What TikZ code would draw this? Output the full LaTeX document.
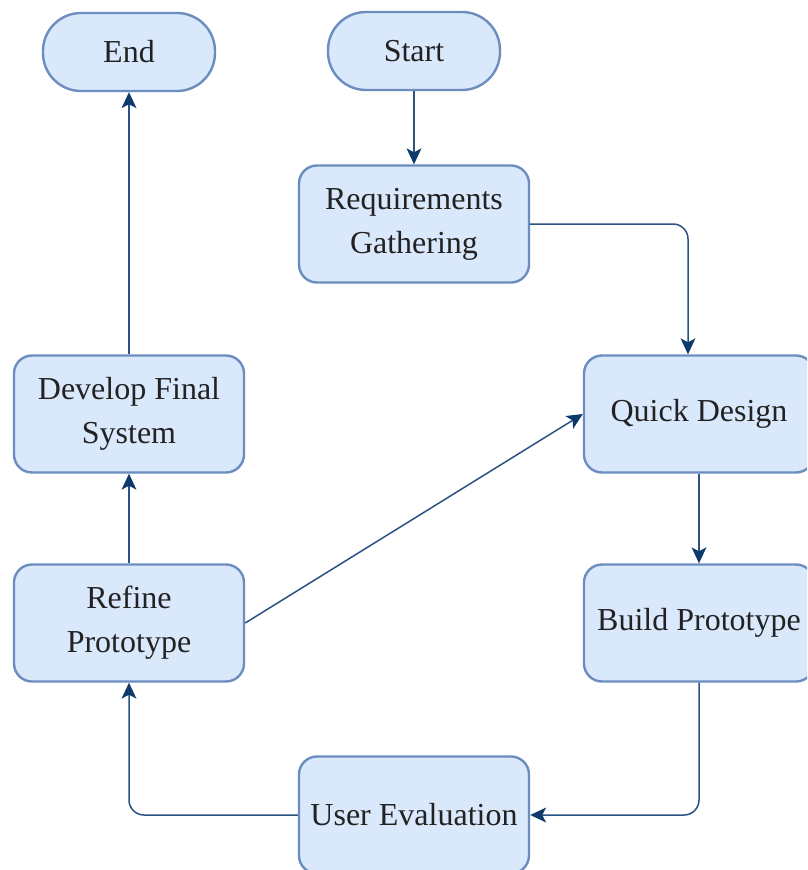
\documentclass[tikz,border=0pt]{standalone}
\usepackage{fontspec}
\setmainfont{Liberation Serif}
\newfontfamily\labelfont{Liberation Serif}
\usetikzlibrary{arrows.meta}
\definecolor{boxfill}{HTML}{DAE8FC}
\definecolor{boxline}{HTML}{6C8EBF}
\definecolor{edgeline}{HTML}{2B5283}
\definecolor{tipcol}{HTML}{0E3A6B}
\definecolor{txt}{HTML}{222222}
\tikzset{
  base/.style={draw=boxline, fill=boxfill, line width=2.4pt, text=txt,
    align=center, font={\labelfont\fontsize{32}{44}\selectfont}, inner sep=0pt},
  pill/.style={base, minimum width=172pt, minimum height=78pt, rounded corners=38pt},
  stepbox/.style={base, minimum width=230pt, minimum height=117pt, rounded corners=18pt},
  tip/.tip={Stealth[length=16pt, width=15pt, inset=4pt, line width=0pt, fill=tipcol]},
  flow/.style={draw=edgeline, line width=1.5pt, rounded corners=15pt, -tip}
}
\begin{document}
\begin{tikzpicture}[x=1pt, y=-1pt]
  \clip (0,0) rectangle (807,870);
  \fill[white] (0,0) rectangle (807,870);

  % nodes
  \node[pill]    (end)     at (129,52)  {End};
  \node[pill]    (start)   at (414,51)  {Start};
  \node[stepbox] (req)     at (414,224) {Requirements\\Gathering};
  \node[stepbox] (quick)   at (699,414) {Quick Design};
  \node[stepbox] (build)   at (699,623) {Build Prototype};
  \node[stepbox] (user)    at (414,815) {User Evaluation};
  \node[stepbox] (refine)  at (129,623) {Refine\\Prototype};
  \node[stepbox] (develop) at (129,414) {Develop Final\\System};

  % connectors
  \draw[flow] (start) -- (req);
  \draw[flow] (req.east) -| ([xshift=-11pt]quick.north);
  \draw[flow] (quick) -- (build);
  \draw[flow] (build.south) |- (user.east);
  \draw[flow] (user.west) -| (refine.south);
  \draw[flow] (refine.east) -- (quick.west);
  \draw[flow] (refine) -- (develop);
  \draw[flow] (develop) -- (end);
\end{tikzpicture}
\end{document}
